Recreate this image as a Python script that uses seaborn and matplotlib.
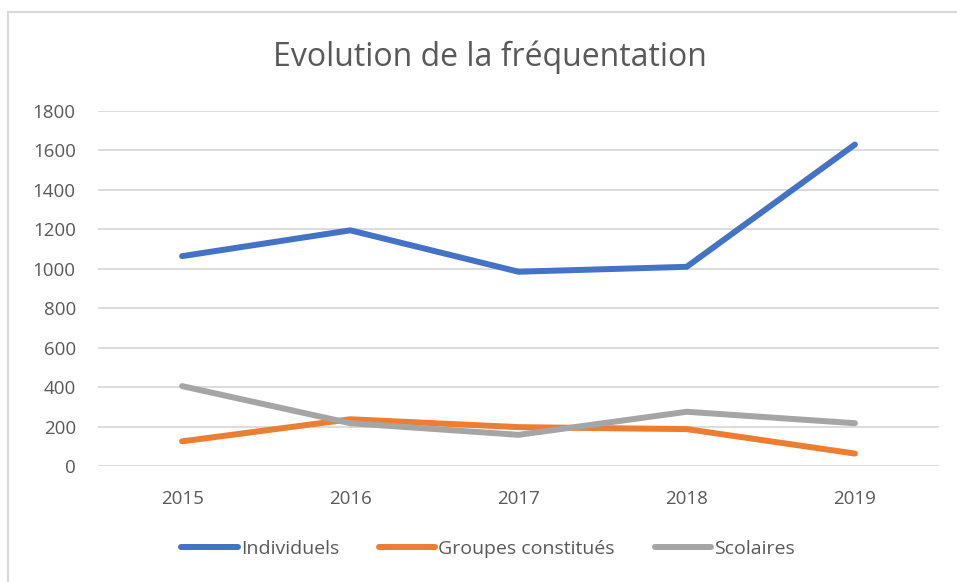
import pandas as pd
import matplotlib.pyplot as plt
import seaborn as sns
from matplotlib.patches import Rectangle

years = ["2015", "2016", "2017", "2018", "2019"]
individuels = [1064, 1195, 985, 1010, 1630]
groupes = [125, 237, 197, 187, 63]
scolaires = [405, 217, 158, 275, 217]
series_names = ["Individuels", "Groupes constitués", "Scolaires"]
colors = ["#4472C4", "#ED7D31", "#A5A5A5"]

df = pd.DataFrame({
    "annee": years * 3,
    "valeur": individuels + groupes + scolaires,
    "serie": [series_names[0]] * 5 + [series_names[1]] * 5 + [series_names[2]] * 5,
})

sns.set_style("white")
plt.rcParams["font.family"] = ["Open Sans", "DejaVu Sans"]

fig = plt.figure(figsize=(9.57, 5.82), dpi=100)
ax = fig.add_axes([98 / 957, 1 - 466 / 582, 841 / 957, 355 / 582])

sns.lineplot(data=df, x="annee", y="valeur", hue="serie", palette=colors,
             linewidth=4.3, solid_capstyle="round", ax=ax, legend=True)

ax.set_xlim(-0.5, 4.5)
ax.set_ylim(0, 1800)
ax.set_yticks(range(0, 1801, 200))
ax.yaxis.grid(True, color="#D9D9D9", linewidth=1.3)
ax.set_axisbelow(True)
for s in ax.spines.values():
    s.set_visible(False)
ax.tick_params(axis="both", length=0, labelsize=13.5, labelcolor="#595959")
ax.tick_params(axis="y", pad=16)
ax.tick_params(axis="x", pad=17)
ax.set_xlabel("")
ax.set_ylabel("")

fig.text(0.512, 1 - 57 / 582, "Evolution de la fréquentation", ha="center", va="center",
         fontsize=23, color="#595959")

handles, labels = ax.get_legend_handles_labels()
ax.legend(handles, labels, loc="center", bbox_to_anchor=(488 / 957, 1 - 549 / 582),
          bbox_transform=fig.transFigure, ncol=3, frameon=False, fontsize=14,
          handlelength=2.9, handletextpad=0.15, columnspacing=2.05,
          labelcolor="#595959")

fig.patches.append(Rectangle((8 / 957, -0.05), 1.0, 1 - 12 / 582 + 0.05,
                             transform=fig.transFigure, fill=False,
                             edgecolor="#D9D9D9", linewidth=1.5))

fig.savefig("out.png", dpi=100)
